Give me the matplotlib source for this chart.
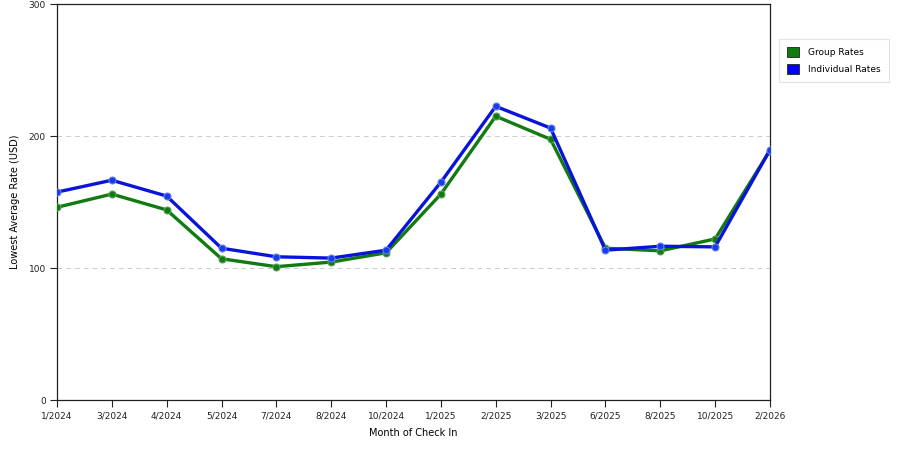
import matplotlib
matplotlib.use("Agg")
import matplotlib.pyplot as plt
from matplotlib.patches import Patch

months = ["1/2024", "3/2024", "4/2024", "5/2024", "7/2024", "8/2024", "10/2024",
          "1/2025", "2/2025", "3/2025", "6/2025", "8/2025", "10/2025", "2/2026"]
group_rates = [146, 156, 144, 107, 101, 104.5, 111.5, 156, 215, 197.5, 115, 113, 122, 189]
individual_rates = [157.5, 166.5, 154.5, 115, 108.5, 107.5, 113.5, 165, 222.5, 206, 113.5, 116.5, 116, 189.5]

green = "#117a11"
blue = "#0a14d8"


def main():
    fig = plt.figure(figsize=(9, 4.5), dpi=100)
    ax = fig.add_axes([0.0633, 0.1111, 0.7922, 0.88])

    x = list(range(len(months)))
    ax.plot(x, group_rates, color=green, linewidth=2.4, marker="o", markersize=5,
            markerfacecolor=green, markeredgecolor="#5aa05a", markeredgewidth=0.8, zorder=3)
    ax.plot(x, individual_rates, color=blue, linewidth=2.4, marker="o", markersize=5,
            markerfacecolor="#1a3ce8", markeredgecolor="#6080f0", markeredgewidth=0.8, zorder=4)

    ax.set_xlim(0, len(months) - 1)
    ax.set_ylim(0, 300)
    ax.set_yticks([0, 100, 200, 300])
    ax.set_xticks(x)
    ax.set_xticklabels(months)
    ax.tick_params(labelsize=6.5, length=5, width=0.8, colors="#222222", pad=3)

    for y in [100, 200]:
        ax.axhline(y, color="#cccccc", linewidth=0.7, linestyle=(0, (5, 4)), zorder=1)

    for s in ax.spines.values():
        s.set_color("#222222")
        s.set_linewidth(0.9)

    ax.set_xlabel("Month of Check In", fontsize=7, labelpad=6)
    ax.set_ylabel("Lowest Average Rate (USD)", fontsize=7, labelpad=6)

    handles = [Patch(facecolor=green, edgecolor="#222222", linewidth=0.6, label="Group Rates"),
               Patch(facecolor="#0000ff", edgecolor="#222222", linewidth=0.6, label="Individual Rates")]
    leg = fig.legend(handles=handles, loc="upper left", bbox_to_anchor=(779 / 900, 1 - 39 / 450),
                     borderaxespad=0, fontsize=6.5, frameon=True, fancybox=False,
                     handlelength=1.3, handleheight=1.3, borderpad=0.9, labelspacing=0.8,
                     handletextpad=1.0)
    leg.get_frame().set_edgecolor("#dddddd")
    leg.get_frame().set_linewidth(0.8)

    fig.savefig("out.png", dpi=100)


if __name__ == "__main__":
    main()
